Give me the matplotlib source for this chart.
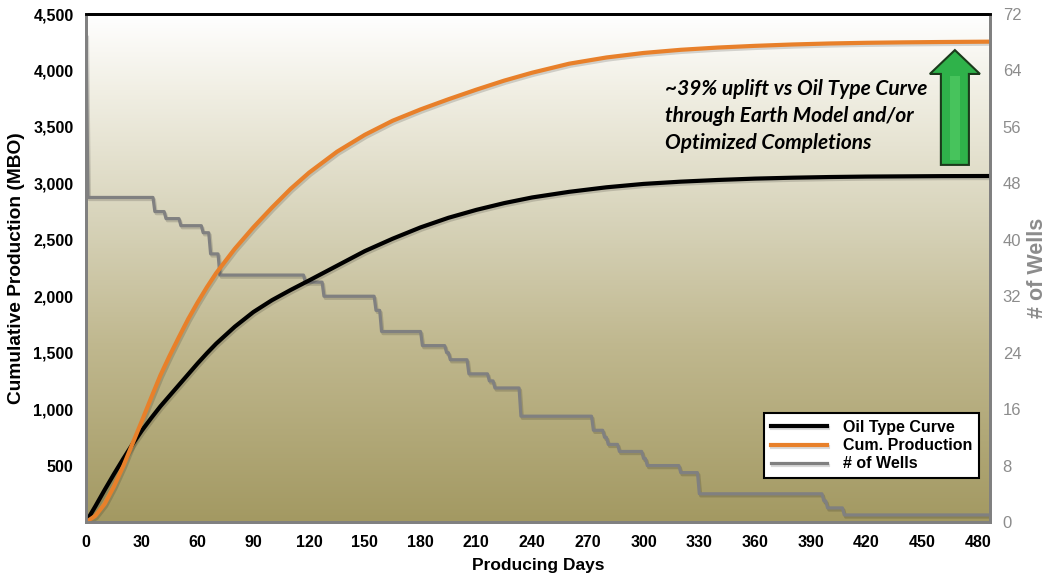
import matplotlib.pyplot as plt
import matplotlib.patheffects as pe
import numpy as np
from matplotlib.colors import LinearSegmentedColormap
from matplotlib.patches import Polygon
from matplotlib.ticker import FuncFormatter

plt.rcParams['font.family'] = ['Liberation Sans', 'DejaVu Sans']

# cumulative production curves (MBO)
curve_days = [0, 5, 10, 15, 20, 25, 30, 35, 40, 45, 50, 55, 60, 65, 70, 80, 90,
              100, 110, 120, 135, 150, 165, 180, 195, 210, 225, 240, 260, 280,
              300, 320, 340, 360, 380, 400, 420, 440, 460, 485]
type_curve = [0, 140, 285, 425, 560, 690, 810, 920, 1025, 1120, 1215, 1310,
              1405, 1495, 1580, 1730, 1860, 1965, 2055, 2140, 2270, 2400, 2510,
              2610, 2695, 2765, 2825, 2875, 2925, 2965, 2995, 3015, 3030, 3042,
              3050, 3056, 3060, 3062, 3064, 3065]
cum_prod = [0, 55, 160, 315, 495, 695, 895, 1100, 1300, 1475, 1640, 1800, 1945,
            2080, 2205, 2420, 2610, 2785, 2950, 3095, 3280, 3430, 3555, 3655,
            3745, 3830, 3910, 3980, 4060, 4115, 4155, 4183, 4203, 4218, 4230,
            4239, 4245, 4249, 4252, 4255]

# well count: day on which the count changes, and the new count
well_change_days = [0, 1, 37, 43, 51, 63, 67, 72, 118, 128, 156, 159, 181, 194,
                    196, 206, 217, 220, 234, 273, 279, 281, 287, 300, 302, 320,
                    330, 397, 399, 408]
well_counts = [69, 46, 44, 43, 42, 41, 38, 35, 34, 32, 30, 27, 25, 24, 23, 21,
               20, 19, 15, 13, 12, 11, 10, 9, 8, 7, 4, 3, 2, 1]
last_day = 485

x_ticks = list(range(0, 481, 30))
y_ticks = list(range(500, 4501, 500))
y2_ticks = list(range(0, 73, 8))

# daily well series from the change points
days = np.arange(0, last_day + 1)
idx = np.searchsorted(well_change_days, days, side='right') - 1
wells = np.array(well_counts)[idx]

fig = plt.figure(figsize=(10.5, 5.79), dpi=100)
ax2 = fig.add_axes([0.082, 0.0984, 0.861, 0.8774])
ax = ax2.twinx()
ax.set_zorder(ax2.get_zorder() + 1)
ax.patch.set_visible(False)

# the secondary axes sits at the back and carries the background gradient
bg = LinearSegmentedColormap.from_list('bg', [
    (0.0, '#a39962'), (0.35, '#c0b88f'), (0.6, '#d8d4bb'),
    (0.85, '#f1efe4'), (1.0, '#ffffff')])
grad = np.linspace(0, 1, 256).reshape(-1, 1)
ax2.imshow(grad, cmap=bg, origin='lower', aspect='auto',
           extent=[0, 1, 0, 1], transform=ax2.transAxes, zorder=0)

shadow = [pe.SimpleLineShadow(offset=(1, -1.5), alpha=0.15), pe.Normal()]

l3, = ax2.plot(days, wells, color='#808080', lw=2.3, zorder=2,
               label='# of Wells', path_effects=shadow)
l1, = ax.plot(curve_days, type_curve, color='black', lw=3.0,
              label='Oil Type Curve', path_effects=shadow)
l2, = ax.plot(curve_days, cum_prod, color='#e8802a', lw=3.0,
              label='Cum. Production', path_effects=shadow)

xmax = 486.5
ax.set_xlim(0, xmax)
ax2.set_xlim(0, xmax)
ax.set_ylim(0, 4500)
ax2.set_ylim(0, 72)

# twinx puts the primary axes on the right, so swap sides
ax.yaxis.tick_left()
ax.yaxis.set_label_position('left')
ax2.yaxis.tick_right()
ax2.yaxis.set_label_position('right')

ax.set_yticks(y_ticks)
ax.yaxis.set_major_formatter(FuncFormatter(lambda v, p: f'{int(v):,}'))
ax2.set_yticks(y2_ticks)
ax2.set_xticks(x_ticks)
ax.set_xticks(x_ticks)

ax.tick_params(axis='y', length=0, labelsize=11.5, pad=9, colors='black')
ax.tick_params(axis='x', length=0, labelbottom=False)
ax2.tick_params(axis='x', length=0, labelsize=11.5, pad=9)
ax2.tick_params(axis='y', length=0, labelsize=12, pad=9, labelcolor='#8c8c8c')
for lab in ax.get_yticklabels() + ax2.get_xticklabels():
    lab.set_fontweight('bold')

ax.set_ylabel('Cumulative Production (MBO)', fontsize=13.8, fontweight='bold',
              labelpad=6)
ax2.set_ylabel('# of Wells', fontsize=15.5, fontweight='bold', color='#8c8c8c',
               labelpad=4)
ax2.set_xlabel('Producing Days', fontsize=12.5, fontweight='bold', labelpad=6)

for a in (ax, ax2):
    for side in ('left', 'right', 'bottom'):
        a.spines[side].set_color('#808080')
        a.spines[side].set_linewidth(2)
    a.spines['top'].set_color('black')
    a.spines['top'].set_linewidth(2)

ax.text(0.64, 0.872, '~39% uplift vs Oil Type Curve\nthrough Earth Model and/or\n'
        'Optimized Completions', transform=ax.transAxes, ha='left', va='top',
        fontsize=15, fontweight='bold', fontstyle='italic', family='Lato',
        linespacing=1.45)

# green uplift arrow
cx, sw, hw = 0.961, 0.0155, 0.0277
tip, hb, base = 0.929, 0.882, 0.703
arrow = Polygon([(cx - sw, base), (cx - sw, hb), (cx - hw, hb), (cx, tip),
                 (cx + hw, hb), (cx + sw, hb), (cx + sw, base)],
                closed=True, transform=ax.transAxes, facecolor='#2fb24a',
                edgecolor='#1b3a1b', linewidth=1.5, zorder=5)
ax.add_patch(arrow)
hl = Polygon([(cx - sw * 0.35, base + 0.01), (cx - sw * 0.35, hb - 0.005),
              (cx + sw * 0.35, hb - 0.005), (cx + sw * 0.35, base + 0.01)],
             closed=True, transform=ax.transAxes, facecolor='#5fd46e',
             edgecolor='none', alpha=0.5, zorder=6)
ax.add_patch(hl)

leg = ax.legend(handles=[l1, l2, l3], loc='lower right',
                bbox_to_anchor=(0.997, 0.07), fontsize=11.5, frameon=True,
                fancybox=False, framealpha=1, edgecolor='black',
                handlelength=3.5, borderpad=0.45, labelspacing=0.2,
                handletextpad=1.0)
leg.get_frame().set_linewidth(1.5)
for t in leg.get_texts():
    t.set_fontweight('bold')

fig.savefig('out.png', dpi=100)
